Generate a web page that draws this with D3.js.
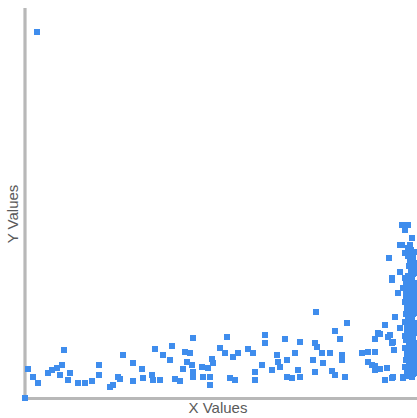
<!DOCTYPE html>
<html><head><meta charset="utf-8">
<script src="https://cdnjs.cloudflare.com/ajax/libs/d3/7.8.5/d3.min.js"></script>
<style>html,body{margin:0;padding:0;background:#fff;overflow:hidden}</style>
</head><body><svg id="c" width="417" height="418"></svg>
<script>
const xLabel = "X Values";
const yLabel = "Y Values";
// scattered points [x, y]
const xs = [0,12,3,8,13,23,27,32,37,35,45,43,53,60,67,74,74,85,93,39,
  98,108,117,95,108,118,127,128,135,130,138,147,145,150,155,168,160,165,162,167,158,168,177,178,168,88,
  202,240,240,260,270,195,200,208,213,223,228,187,188,183,185,185,205,210,230,230,237,247,252,253,255,262,267,273,262,
  291,322,310,315,275,290,292,297,305,317,317,288,298,275,290,307,310,320,337,343,343,350,355,350,355,360,363,362,
  377,385,364,380,367,375,378,370,375,367,368,378,
  377,383,380,387,375,383,364,385,375,367,380,373,382,
  370,375,360,353,365,368,369,350,347,350,360,367,378];
const ys = [0,366,29,21,15,25,28,30,33,23,25,18,15,15,17,33,23,11,21,48,
  43,35,29,19,17,20,23,18,18,49,43,52,38,19,17,60,46,45,36,33,29,26,31,21,21,13,
  61,63,55,59,45,50,45,41,45,49,45,39,35,30,21,13,20,18,26,18,33,28,43,36,31,21,20,28,38,
  86,75,67,59,56,55,51,45,45,43,38,38,35,21,26,27,23,21,45,46,36,32,29,59,64,73,61,30,
  153,153,140,145,118,126,110,81,70,55,21,21,
  173,173,168,160,153,150,140,140,126,120,120,105,106,
  81,70,73,65,63,56,48,46,33,28,18,20,20];
// dense column near the right edge
const colX = [386,390,383,388,385,390,384,389,386,390,383,387,385,390,384,388,386,390,383,389,385,390,384,388,386,390,383,387,385,390,384,389,386,390,383,388,385,390,384,387,386,390,383,389,385,390,384,388,386,390,383,387,385,390,384,389,386,390,383,388,385,390,384,387,
  381,381,380,382,381,380,382,381,380,382,381,380,382,381,380,382,
  388,387,389,388,387,389,388,387,389,388,387,389,388,387,389,388,387,389,388,387];
const colY = [148,146,142,140,137,135,132,130,127,125,122,120,117,115,112,110,107,105,102,100,97,95,92,90,87,85,82,80,77,75,72,70,67,65,62,60,57,55,52,50,47,45,42,40,37,35,32,30,27,25,22,21,143,98,88,68,58,48,38,28,118,108,78,128,
  115,104,96,90,84,76,66,58,50,44,38,31,26,100,62,72,
  145,138,131,124,118,111,104,97,91,84,78,71,64,57,51,44,37,30,24,160];

const svg = d3.select("#c");
const x = d3.scaleLinear().domain([0, 390]).range([25, 415]);
const y = d3.scaleLinear().domain([0, 390]).range([398, 8]);

const pts = xs.map((v,i)=>[v, ys[i]]).concat(colX.map((v,i)=>[v, colY[i]]));

// axes as plain lines (no ticks)
const xAxis = d3.axisBottom(x).ticks(0).tickSize(0).tickFormat("");
const yAxis = d3.axisLeft(y).ticks(0).tickSize(0).tickFormat("");
svg.append("g").attr("transform","translate(0,398.5)").call(xAxis)
  .call(g=>g.select(".domain").attr("stroke","#b8b8b8").attr("stroke-width",3.2).attr("d","M23,0H417"));
svg.append("g").attr("transform","translate(25,0)").call(yAxis)
  .call(g=>g.select(".domain").attr("stroke","#b8b8b8").attr("stroke-width",3.2).attr("d","M0,8V400"));

svg.append("g").selectAll("rect").data(pts).join("rect")
  .attr("x", d=>x(d[0])-3).attr("y", d=>y(d[1])-3)
  .attr("width",6).attr("height",6)
  .attr("fill","#3f8ded");

svg.append("text").attr("x",218).attr("y",413).attr("text-anchor","middle")
  .attr("font-family","Liberation Sans, Arial, sans-serif").attr("font-size",15)
  .attr("fill","#5a5a5a").text(xLabel);
svg.append("text").attr("transform","translate(18,214) rotate(-90)").attr("text-anchor","middle")
  .attr("font-family","Liberation Sans, Arial, sans-serif").attr("font-size",15)
  .attr("fill","#5a5a5a").text(yLabel);
</script></body></html>
